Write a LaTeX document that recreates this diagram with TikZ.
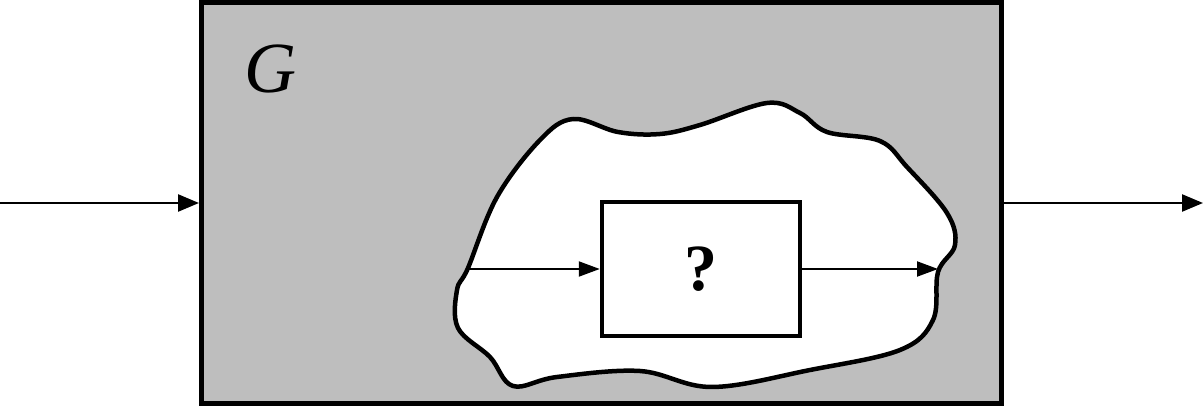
\documentclass[tikz,border=0pt]{standalone}
\usepackage{fontspec}
\setmainfont{Liberation Serif}
\usetikzlibrary{arrows.meta}
\definecolor{boxgray}{RGB}{190,190,190}
\tikzset{
  outerbox/.style={draw=black, fill=boxgray, line width=5pt, minimum width=800pt, minimum height=401pt, inner sep=0pt},
  innerbox/.style={draw=black, fill=white, line width=4.5pt, minimum width=198pt, minimum height=134pt, inner sep=0pt, font=\fontsize{66}{66}\selectfont\bfseries},
  blobline/.style={draw=black, fill=white, line width=4.5pt, line join=round},
  mainarrow/.style={line width=2.5pt, -{Triangle[length=21pt,width=17pt]}},
  subarrow/.style={line width=2pt, -{Triangle[length=21pt,width=15pt]}},
  labeltext/.style={font=\fontsize{72}{72}\selectfont\itshape, inner sep=0pt}
}
\begin{document}
\begin{tikzpicture}[x=1pt,y=-1pt]
\useasboundingbox (0,0) rectangle (1203,406);
\node[outerbox] (gbox) at (601.5,203) {};
\node[labeltext] (glabel) at (270,69) {G};
\draw[blobline] plot[smooth cycle, tension=0.6] coordinates {
(468,268) (497,197) (540,140) (573,119) (618,132) (660,134) (700,125) (767,103) (800,113) (827,132) (880,141) (907,167) (947,213) (955,245) (938,272) (933,320) (900,350) (810,370) (712,387) (640,371) (557,377) (513,386) (490,357) (458,328) (457,290)};
\node[innerbox] (qbox) at (701,269) {?};
\coordinate (in) at (0,203);
\coordinate (out) at (1203,203);
\coordinate (bl) at (468,269);
\coordinate (br) at (938,269);
\draw[mainarrow] (in) -- (gbox.west);
\draw[mainarrow] (gbox.east) -- (out);
\draw[subarrow] (bl) -- (qbox.west);
\draw[subarrow] (qbox.east) -- (br);
\end{tikzpicture}
\end{document}
